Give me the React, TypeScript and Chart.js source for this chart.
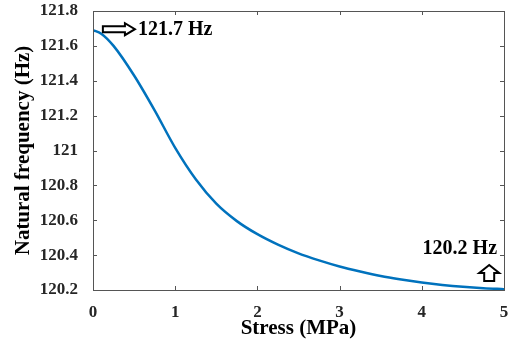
import React, { useEffect, useRef } from "react";
import { Chart, registerables } from "chart.js";

Chart.register(...registerables);

// Data
const stress = [0, 0.1, 0.25, 0.5, 0.75, 1.0, 1.25, 1.5, 1.75, 2.0, 2.25, 2.5, 2.75, 3.0, 3.25, 3.5, 3.75, 4.0, 4.25, 4.5, 4.75, 5.0];
const frequency = [121.69, 121.67, 121.6, 121.43, 121.23, 121.015, 120.835, 120.695, 120.595, 120.52, 120.46, 120.41, 120.37, 120.335, 120.306, 120.28, 120.26, 120.243, 120.229, 120.218, 120.21, 120.205];
const xTicks = [0, 1, 2, 3, 4, 5];
const yTicks = [120.2, 120.4, 120.6, 120.8, 121, 121.2, 121.4, 121.6, 121.8];
const xTitle = "Stress (MPa)";
const yTitle = "Natural frequency (Hz)";
const startLabel = "121.7 Hz";
const endLabel = "120.2 Hz";

const FONT = "'Liberation Serif', 'Times New Roman', serif";
const AXIS_COLOR = "#555555";
const TEXT_COLOR = "#262626";
const LINE_COLOR = "#0072BD";

const boxPlugin = {
  id: "boxTicks",
  afterDraw(chart: any) {
    const { ctx, chartArea: a, scales } = chart;
    const xs = scales.x, ys = scales.y;
    ctx.save();
    ctx.strokeStyle = AXIS_COLOR;
    ctx.lineWidth = 1;
    ctx.strokeRect(Math.round(a.left) + 0.5, Math.round(a.top) + 0.5, Math.round(a.right - a.left), Math.round(a.bottom - a.top));
    const tl = 4;
    ctx.beginPath();
    xTicks.forEach((v) => {
      const px = Math.round(xs.getPixelForValue(v)) + 0.5;
      ctx.moveTo(px, a.bottom); ctx.lineTo(px, a.bottom - tl);
      ctx.moveTo(px, a.top); ctx.lineTo(px, a.top + tl);
    });
    yTicks.forEach((v) => {
      const py = Math.round(ys.getPixelForValue(v)) + 0.5;
      ctx.moveTo(a.left, py); ctx.lineTo(a.left + tl, py);
      ctx.moveTo(a.right, py); ctx.lineTo(a.right - tl, py);
    });
    ctx.stroke();

    // annotations
    ctx.fillStyle = "#000";
    ctx.textBaseline = "middle";
    ctx.font = `bold 20px ${FONT}`;
    // right arrow near start value
    const ax0 = xs.getPixelForValue(0.12), ax1 = xs.getPixelForValue(0.51);
    const ay = ys.getPixelForValue(frequency[0]) - 1;
    const headW = 10;
    ctx.lineWidth = 2;
    ctx.strokeStyle = "#000";
    ctx.beginPath();
    ctx.moveTo(ax0, ay - 3);
    ctx.lineTo(ax1 - headW, ay - 3);
    ctx.lineTo(ax1 - headW, ay - 6);
    ctx.lineTo(ax1, ay);
    ctx.lineTo(ax1 - headW, ay + 6);
    ctx.lineTo(ax1 - headW, ay + 3);
    ctx.lineTo(ax0, ay + 3);
    ctx.closePath();
    ctx.stroke();
    ctx.textAlign = "left";
    ctx.fillText(startLabel, ax1 + 3, ay + 1);

    // up arrow near end value
    const ux = xs.getPixelForValue(4.82);
    const uTop = ys.getPixelForValue(120.343);
    const uBot = ys.getPixelForValue(120.251);
    const headH = 8;
    ctx.beginPath();
    ctx.moveTo(ux, uTop);
    ctx.lineTo(ux + 10, uTop + headH);
    ctx.lineTo(ux + 5, uTop + headH);
    ctx.lineTo(ux + 5, uBot);
    ctx.lineTo(ux - 5, uBot);
    ctx.lineTo(ux - 5, uTop + headH);
    ctx.lineTo(ux - 10, uTop + headH);
    ctx.closePath();
    ctx.stroke();
    ctx.textAlign = "right";
    ctx.fillText(endLabel, xs.getPixelForValue(4.915), ys.getPixelForValue(120.434));
    ctx.restore();
  },
};

export default function App() {
  const ref = useRef<HTMLCanvasElement | null>(null);
  useEffect(() => {
    document.body.style.margin = "0";
    const canvas = ref.current!;
    const chart = new Chart(canvas, {
      type: "line",
      data: {
        datasets: [
          {
            data: stress.map((x, i) => ({ x, y: frequency[i] })),
            borderColor: LINE_COLOR,
            borderWidth: 2.5,
            pointRadius: 0,
            fill: false,
            cubicInterpolationMode: "monotone",
          },
        ],
      },
      options: {
        animation: false,
        responsive: false,
        devicePixelRatio: 1,
        layout: { padding: { left: 0, top: 11, right: 8, bottom: 0 } },
        plugins: { legend: { display: false }, tooltip: { enabled: false } },
        scales: {
          x: {
            type: "linear",
            min: 0,
            max: 5,
            afterBuildTicks: (s: any) => { s.ticks = xTicks.map((v) => ({ value: v })); },
            afterFit: (s: any) => { s.height = 57; s.paddingRight = 0; s.paddingLeft = 0; },
            grid: { display: false },
            border: { display: false },
            ticks: { color: TEXT_COLOR, font: { family: FONT, size: 17, weight: "bold" }, padding: 4, maxRotation: 0 },
            title: { display: true, text: xTitle, color: "#000", font: { family: FONT, size: 21, weight: "bold" }, padding: { top: 0, bottom: 6 } },
          },
          y: {
            type: "linear",
            min: 120.2,
            max: 121.8,
            afterBuildTicks: (s: any) => { s.ticks = yTicks.map((v) => ({ value: v })); },
            afterFit: (s: any) => { s.width = 93; s.paddingTop = 0; s.paddingBottom = 0; },
            grid: { display: false },
            border: { display: false },
            ticks: {
              color: TEXT_COLOR,
              font: { family: FONT, size: 17, weight: "bold" },
              padding: 7,
              callback: (v: any) => String(Number(Number(v).toFixed(1))),
            },
            title: { display: true, text: yTitle, color: "#000", font: { family: FONT, size: 21, weight: "bold" }, padding: { top: 11, bottom: 0 } },
          },
        },
      },
      plugins: [boxPlugin],
    } as any);
    return () => chart.destroy();
  }, []);
  return (
    <div style={{ width: 512, height: 347, background: "#fff" }}>
      <canvas ref={ref} width={512} height={347} />
    </div>
  );
}
